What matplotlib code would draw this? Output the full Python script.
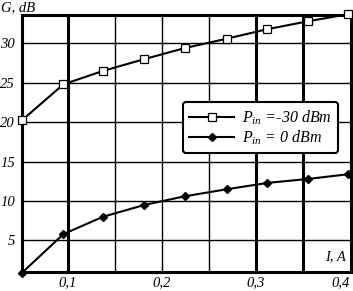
import matplotlib
matplotlib.use("Agg")
import matplotlib.pyplot as plt
from matplotlib.font_manager import FontProperties

plt.rcParams["mathtext.fontset"] = "custom"
plt.rcParams["mathtext.it"] = "Liberation Serif:italic"
plt.rcParams["mathtext.rm"] = "Liberation Serif:italic"
plt.rcParams["mathtext.default"] = "it"

current = [0.051, 0.095, 0.137, 0.181, 0.224, 0.269, 0.312, 0.355, 0.398]
gain_m30 = [20.25, 24.8, 26.5, 28.0, 29.4, 30.6, 31.8, 32.8, 33.7]
gain_0 = [0.9, 5.8, 8.0, 9.5, 10.6, 11.5, 12.3, 12.8, 13.4]
xticks = [0.1, 0.2, 0.3, 0.4]
xtick_labels = ["0,1", "0,2", "0,3", "0,4"]
yticks = [5, 10, 15, 20, 25, 30]
vgrid = [0.1, 0.15, 0.2, 0.25, 0.3, 0.35]
vgrid_width = [2.2, 1.0, 1.0, 1.0, 2.2, 2.2]

fp = FontProperties(family="Liberation Serif", style="italic", size=10.5)
fpl = FontProperties(family="Liberation Serif", style="italic", size=11.5)

fig = plt.figure(figsize=(3.53, 2.91), dpi=100)
ax = fig.add_axes([22/353, 19/291, 329/353, 257/291])
ax.set_xlim(0.051, 0.401)
ax.set_ylim(1.0, 33.6)

for y in yticks:
    ax.axhline(y, color="black", lw=1.0, zorder=1)
for x, w in zip(vgrid, vgrid_width):
    ax.axvline(x, color="black", lw=w, zorder=1)

ax.plot(current, gain_m30, color="black", lw=1.5, marker="s", ms=6,
        mfc="white", mec="black", mew=0.9, clip_on=False, zorder=3,
        label="$P_{in}$ =-30 dBm")
ax.plot(current, gain_0, color="black", lw=1.5, marker="D", ms=4.5,
        mfc="black", mec="black", clip_on=False, zorder=3,
        label="$P_{in}$ = 0 dBm")

ax.set_xticks(xticks)
ax.set_xticklabels(xtick_labels, fontproperties=fp)
ax.get_xticklabels()[-1].set_horizontalalignment("right")
ax.set_yticks(yticks)
ax.set_yticklabels([str(v) for v in yticks], fontproperties=fp)
ax.tick_params(axis="x", length=0, pad=3)
ax.tick_params(axis="y", length=0, pad=5)
for s in ax.spines.values():
    s.set_linewidth(2.2)

leg = ax.legend(loc="upper left", bbox_to_anchor=(161/329, (272-102)/257),
                borderaxespad=0, prop=fpl, frameon=True, fancybox=True,
                handlelength=2.8, borderpad=0.4, labelspacing=0.1,
                handletextpad=0.5)
leg.get_frame().set_edgecolor("black")
leg.get_frame().set_linewidth(1.5)
leg.get_frame().set_alpha(1)

fig.text(1/353, 1 - 8/291, "G, dB", fontproperties=fp, va="center", ha="left")
ax.text(0.396, 2.9, "I, A", fontproperties=fp, ha="right", va="center")

fig.savefig("out.png", dpi=100)
